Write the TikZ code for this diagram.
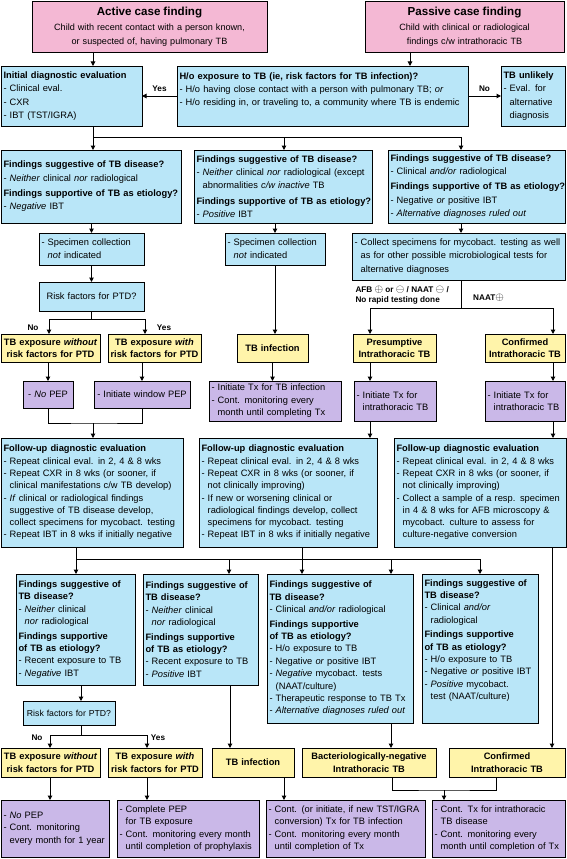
\documentclass[tikz,border=0pt]{standalone}
\usepackage{fontspec}
\setmainfont{Liberation Sans}
\usetikzlibrary{arrows.meta, positioning}

\definecolor{pinkfill}{RGB}{244,184,212}
\definecolor{bluefill}{RGB}{185,230,248}
\definecolor{yellowfill}{RGB}{255,244,170}
\definecolor{purplefill}{RGB}{202,184,232}
\newcommand{\dashpad}{\phantom{- }}
\newcommand{\testpos}{{\fontsize{10.5}{10}\selectfont$\oplus$}}
\newcommand{\testneg}{{\fontsize{10.5}{10}\selectfont$\ominus$}}

\begin{document}
\begin{tikzpicture}[x=1pt, y=-1pt,
  box/.style={draw, line width=0.9pt, anchor=north west, inner xsep=2.5pt, inner ysep=1pt, outer sep=0pt, align=left},
  nowrap/.style={execute at begin node={\rightskip=0pt plus 1fil minus 10pt\hyphenpenalty=10000\relax}},
  topfont/.style={font=\fontsize{9.3}{13.3}\selectfont},
  lowfont/.style={font=\fontsize{9.3}{12.5}\selectfont},
  fufont/.style={font=\fontsize{9.3}{12.3}\selectfont},
  gfont/.style={font=\fontsize{9.3}{12.4}\selectfont},
  pinkbox/.style={box, fill=pinkfill, align=center, font=\fontsize{9.1}{13.3}\selectfont},
  bluebox/.style={box, fill=bluefill, nowrap},
  bluecenter/.style={box, fill=bluefill, align=center},
  yellowbox/.style={box, fill=yellowfill, align=center, font=\fontsize{9.3}{12.5}\selectfont\bfseries},
  purplebox/.style={box, fill=purplefill, lowfont, nowrap},
  purplecenter/.style={box, fill=purplefill, lowfont, align=center},
  line/.style={line width=1pt},
  arr/.style={line, -{Triangle[length=4.5pt, width=4.5pt]}},
  lbl/.style={font=\fontsize{8.2}{10.5}\selectfont\bfseries, inner sep=1pt, align=left}]
\useasboundingbox (0,0) rectangle (567,859);

% Case finding
\node[pinkbox, text width=230pt, minimum height=51pt] (active) at (32,1) {{\fontsize{11.6}{14}\selectfont\bfseries Active case finding}\\[2pt] Child with recent contact with a person known,\\or suspected of, having pulmonary TB};
\node[pinkbox, text width=194pt, minimum height=51pt] (passive) at (365,1) {{\fontsize{11.6}{14}\selectfont\bfseries Passive case finding}\\[2pt] Child with clinical or radiological\\findings c/w intrathoracic TB};

% Initial evaluation
\node[bluebox, topfont, text width=136pt, minimum height=60pt] (initial) at (1,66) {\textbf{Initial diagnostic evaluation}\\- Clinical eval.\\- CXR\\- IBT (TST/IGRA)};
\node[bluebox, topfont, text width=286pt, text height=12pt, text depth=46pt] (exposure) at (177,66) {\textbf{H/o exposure to TB (ie, risk factors for TB infection)?}\\- H/o having close contact with a person with pulmonary TB; \textit{or}\\- H/o residing in, or traveling to, a community where TB is endemic};
\node[bluebox, topfont, text width=59pt, minimum height=60pt] (unlikely) at (501,66) {\textbf{TB unlikely}\\- Eval. for\\\dashpad alternative\\\dashpad diagnosis};

% Findings
\node[bluebox, topfont, text width=175pt, minimum height=73pt] (fa) at (1,150) {\textbf{Findings suggestive of TB disease?}\\- \textit{Neither} clinical \textit{nor} radiological\\[2pt]\textbf{Findings supportive of TB as etiology?}\\- \textit{Negative} IBT};
\node[bluebox, topfont, text width=173pt, minimum height=73pt] (fb) at (194,150) {\textbf{Findings suggestive of TB disease?}\\- \textit{Neither} clinical \textit{nor} radiological (except\\\dashpad abnormalities \textit{c/w inactive} TB\\[2pt]\textbf{Findings supportive of TB as etiology?}\\- \textit{Positive} IBT};
\node[bluebox, topfont, text width=172pt, minimum height=73pt] (fc) at (388,150) {\textbf{Findings suggestive of TB disease?}\\- Clinical \textit{and/or} radiological\\[2pt]\textbf{Findings supportive of TB as etiology?}\\- Negative \textit{or} positive IBT\\- \textit{Alternative diagnoses ruled out}};

% Specimens
\node[bluebox, topfont, text width=100pt, minimum height=32pt] (speca) at (39,233) {- Specimen collection\\\dashpad\textit{not} indicated};
\node[bluebox, topfont, text width=95pt, minimum height=32pt] (specb) at (225,233) {- Specimen collection\\\dashpad\textit{not} indicated};
\node[bluebox, topfont, text width=208pt, minimum height=47pt] (collect) at (352,233) {- Collect specimens for mycobact. testing as well\\\dashpad as for other possible microbiological tests for\\\dashpad alternative diagnoses};
\node[bluecenter, lowfont, text width=100pt, minimum height=29pt] (riska) at (39,282) {Risk factors for PTD?};

% Diagnoses, first pass
\node[yellowbox, text width=94pt, minimum height=28pt] (ya) at (1,334) {TB exposure \textit{without}\\risk factors for PTD};
\node[yellowbox, text width=88pt, minimum height=28pt] (yb) at (108,334) {TB exposure \textit{with}\\risk factors for PTD};
\node[yellowbox, text width=66pt, minimum height=28pt] (yc) at (237,334) {TB infection};
\node[yellowbox, text width=78pt, minimum height=28pt] (yd) at (353,334) {Presumptive\\Intrathoracic TB};
\node[yellowbox, text width=75pt, minimum height=28pt] (ye) at (485,334) {Confirmed\\Intrathoracic TB};

% Management, first pass
\node[purplecenter, text width=45pt, minimum height=27pt] (pa) at (23,381) {- \textit{No} PEP};
\node[purplecenter, text width=91pt, minimum height=27pt] (pb) at (94,381) {- Initiate window PEP};
\node[purplebox, text width=127pt, minimum height=40pt] (pc) at (209,381) {- Initiate Tx for TB infection\\- Cont. monitoring every\\\dashpad month until completing Tx};
\node[purplebox, text width=77pt, minimum height=40pt] (pd) at (354,381) {- Initiate Tx for\\\dashpad intrathoracic TB};
\node[purplebox, text width=75pt, minimum height=40pt] (pe) at (485,381) {- Initiate Tx for\\\dashpad intrathoracic TB};

% Follow-up
\node[bluebox, fufont, text width=177pt, minimum height=109pt] (fua) at (1,438) {\textbf{Follow-up diagnostic evaluation}\\- Repeat clinical eval. in 2, 4 \& 8 wks\\- Repeat CXR in 8 wks (or sooner, if\\\dashpad clinical manifestations c/w TB develop)\\- \textit{If} clinical or radiological findings\\\dashpad suggestive of TB disease develop,\\\dashpad collect specimens for mycobact. testing\\- Repeat IBT in 8 wks if initially negative};
\node[bluebox, fufont, text width=173pt, minimum height=109pt] (fub) at (199,438) {\textbf{Follow-up diagnostic evaluation}\\- Repeat clinical eval. in 2, 4 \& 8 wks\\- Repeat CXR in 8 wks (or sooner, if\\\dashpad not clinically improving)\\- If new or worsening clinical or\\\dashpad radiological findings develop, collect\\\dashpad specimens for mycobact. testing\\- Repeat IBT in 8 wks if initially negative};
\node[bluebox, fufont, text width=167pt, minimum height=109pt] (fuc) at (394,438) {\textbf{Follow-up diagnostic evaluation}\\- Repeat clinical eval. in 2, 4 \& 8 wks\\- Repeat CXR in 8 wks (or sooner, if\\\dashpad not clinically improving)\\- Collect a sample of a resp. specimen\\\dashpad in 4 \& 8 wks for AFB microscopy \&\\\dashpad mycobact. culture to assess for\\\dashpad culture-negative conversion};

% Findings at follow-up
\node[bluebox, gfont, text width=114pt, minimum height=111pt] (ga) at (16,574) {\textbf{Findings suggestive of}\\\textbf{TB disease?}\\- \textit{Neither} clinical\\\dashpad\textit{nor} radiological\\[2pt]\textbf{Findings supportive}\\\textbf{of TB as etiology?}\\- Recent exposure to TB\\- \textit{Negative} IBT};
\node[bluebox, gfont, text width=110pt, minimum height=111pt] (gb) at (143,574) {\textbf{Findings suggestive of}\\\textbf{TB disease?}\\- \textit{Neither} clinical\\\dashpad\textit{nor} radiological\\[2pt]\textbf{Findings supportive}\\\textbf{of TB as etiology?}\\- Recent exposure to TB\\- \textit{Positive} IBT};
\node[bluebox, gfont, text width=141pt, minimum height=149pt] (gc) at (267,574) {\textbf{Findings suggestive of}\\\textbf{TB disease?}\\- Clinical \textit{and/or} radiological\\[2pt]\textbf{Findings supportive}\\\textbf{of TB as etiology?}\\- H/o exposure to TB\\- Negative \textit{or} positive IBT\\- \textit{Negative} mycobact. tests\\\dashpad(NAAT/culture)\\- Therapeutic response to TB Tx\\- \textit{Alternative diagnoses ruled out}};
\node[bluebox, gfont, text width=111pt, text height=11pt, text depth=136pt] (gd) at (422,574) {\textbf{Findings suggestive of}\\\textbf{TB disease?}\\- Clinical \textit{and/or}\\\dashpad radiological\\[2pt]\textbf{Findings supportive}\\\textbf{of TB as etiology?}\\- H/o exposure to TB\\- Negative \textit{or} positive IBT\\- \textit{Positive} mycobact.\\\dashpad test (NAAT/culture)};
\node[bluecenter, font=\fontsize{8.7}{11}\selectfont, inner xsep=1pt, text width=90pt, minimum height=24pt] (riskb) at (23,701) {Risk factors for PTD?};

% Diagnoses, second pass
\node[yellowbox, text width=94pt, minimum height=29pt] (yf) at (1,748) {TB exposure \textit{without}\\risk factors for PTD};
\node[yellowbox, text width=89pt, minimum height=29pt] (yg) at (108,748) {TB exposure \textit{with}\\risk factors for PTD};
\node[yellowbox, text width=77pt, minimum height=29pt] (yh) at (212,748) {TB infection};
\node[yellowbox, text width=129pt, minimum height=29pt] (yi) at (302,748) {Bacteriologically-negative\\Intrathoracic TB};
\node[yellowbox, text width=111pt, minimum height=29pt] (yj) at (449,748) {Confirmed\\Intrathoracic TB};

% Management, second pass
\node[purplebox, text width=103pt, minimum height=57pt] (pf) at (1,800) {- \textit{No} PEP\\- Cont. monitoring\\\dashpad every month for 1 year};
\node[purplebox, text width=137pt, minimum height=57pt] (pg) at (117,800) {- Complete PEP\\\dashpad for TB exposure\\- Cont. monitoring every month\\\dashpad until completion of prophylaxis};
\node[purplebox, text width=154pt, minimum height=57pt] (ph) at (266,800) {- Cont. (or initiate, if new TST/IGRA\\\dashpad conversion) Tx for TB infection\\- Cont. monitoring every month\\\dashpad until completion of Tx};
\node[purplebox, text width=128pt, minimum height=57pt] (pi) at (432,800) {- Cont. Tx for intrathoracic\\\dashpad TB disease\\- Cont. monitoring every\\\dashpad month until completion of Tx};

% Connectors, top
\draw[arr] (active.south -| 93,0) -- (initial.north -| 93,0);
\draw[arr] (passive.south -| 410,0) -- (exposure.north -| 410,0);
\draw[arr] (exposure.west |- initial.east) -- node[lbl, above=3pt] (yestop) {Yes} (initial.east);
\draw[arr] (exposure.east |- unlikely.west) -- node[lbl, above=3pt] (notop) {No} (unlikely.west);
\coordinate (splittop) at (93,137);
\draw[line] (initial.south -| splittop) -- (splittop) -- (splittop -| 461,0);
\draw[arr] (splittop) -- (fa.north -| splittop);
\draw[arr] (splittop -| 284,0) -- (fb.north -| 284,0);
\draw[arr] (splittop -| 461,0) -- (fc.north -| 461,0);
\draw[arr] (fa.south -| speca.north) -- (speca.north);
\draw[arr] (fb.south -| specb.north) -- (specb.north);
\draw[arr] (fc.south -| 461,0) -- (collect.north -| 461,0);
\draw[arr] (speca.south) -- (riska.north);

% Risk split and test results
\draw[arr] (riska.south) -- ++(0,8) -| (ya.north -| 49,0);
\draw[arr] (riska.south) ++(0,8) -| (yb.north -| 145,0);
\node[lbl] (noa) at (33,328) {No};
\node[lbl] (yesa) at (164,328) {Yes};
\draw[arr] (specb.south) -- (specb.south |- yc.north);
\draw[arr] (collect.south -| 461,0) -- ++(0,28) -| (yd.north -| 370,0);
\draw[arr] (collect.south -| 461,0) ++(0,28) -| (ye.north -| 553,0);
\node[lbl, anchor=east] (afb) at (450,295) {AFB \testpos{} or \testneg{} / NAAT \testneg{} /\\No rapid testing done};
\node[lbl, anchor=west] (naat) at (472,298) {NAAT\testpos};

% To management and follow-up
\draw[arr] (pa.north |- ya.south) -- (pa.north);
\draw[arr] (pb.north |- yb.south) -- (pb.north);
\draw[arr] (yc.south) -- (yc.south |- pc.north);
\draw[arr] (yd.south -| 370,0) -- (pd.north -| 370,0);
\draw[arr] (ye.south -| 553,0) -- (pe.north -| 553,0);
\coordinate (joinpep) at (93,423);
\draw[line] (pa.south) |- (joinpep) -| (pb.south);
\draw[arr] (joinpep) -- (joinpep |- fua.north);
\draw[arr] (pd.south -| 370,0) -- (fub.north -| 370,0);
\draw[arr] (pe.south -| 553,0) -- (fuc.north -| 553,0);

% Follow-up to findings
\coordinate (splitfu) at (76,559);
\draw[line] (fua.south -| splitfu) -- (splitfu) -- (splitfu -| gd.north);
\draw[arr] (splitfu) -- (splitfu |- ga.north);
\draw[arr] (splitfu -| 229,0) -- (gb.north -| 229,0);
\draw[arr] (splitfu -| 391,0) -- (gc.north -| 391,0);
\draw[arr] (splitfu -| gd.north) -- (gd.north);
\draw[arr] (fub.south -| 302,0) -- (gc.north -| 302,0);
\draw[arr] (fuc.south -| 552,0) -- (yj.north -| 552,0);

% Second pass
\draw[arr] (ga.south -| 81,0) -- (riskb.north -| 81,0);
\draw[arr] (riskb.south -| 81,0) -- ++(0,10) -| (yf.north -| 50,0);
\draw[arr] (riskb.south -| 81,0) ++(0,10) -| (yg.north -| 147,0);
\node[lbl] (nob) at (37,738) {No};
\node[lbl] (yesb) at (158,738) {Yes};
\draw[arr] (gb.south -| 230,0) -- (yh.north -| 230,0);
\draw[arr] (gc.south -| 391,0) -- (yi.north -| 391,0);
\draw[arr] (yf.south -| 50,0) -- (pf.north -| 50,0);
\draw[arr] (yg.south -| 147,0) -- (pg.north -| 147,0);
\draw[arr] (yh.south -| 284,0) -- (ph.north -| 284,0);
\coordinate (jointb) at (444,790);
\draw[line] (yi.south -| 392,0) |- (jointb) -| (yj.south -| 496,0);
\draw[arr] (jointb) -- (jointb |- pi.north);
\end{tikzpicture}
\end{document}
